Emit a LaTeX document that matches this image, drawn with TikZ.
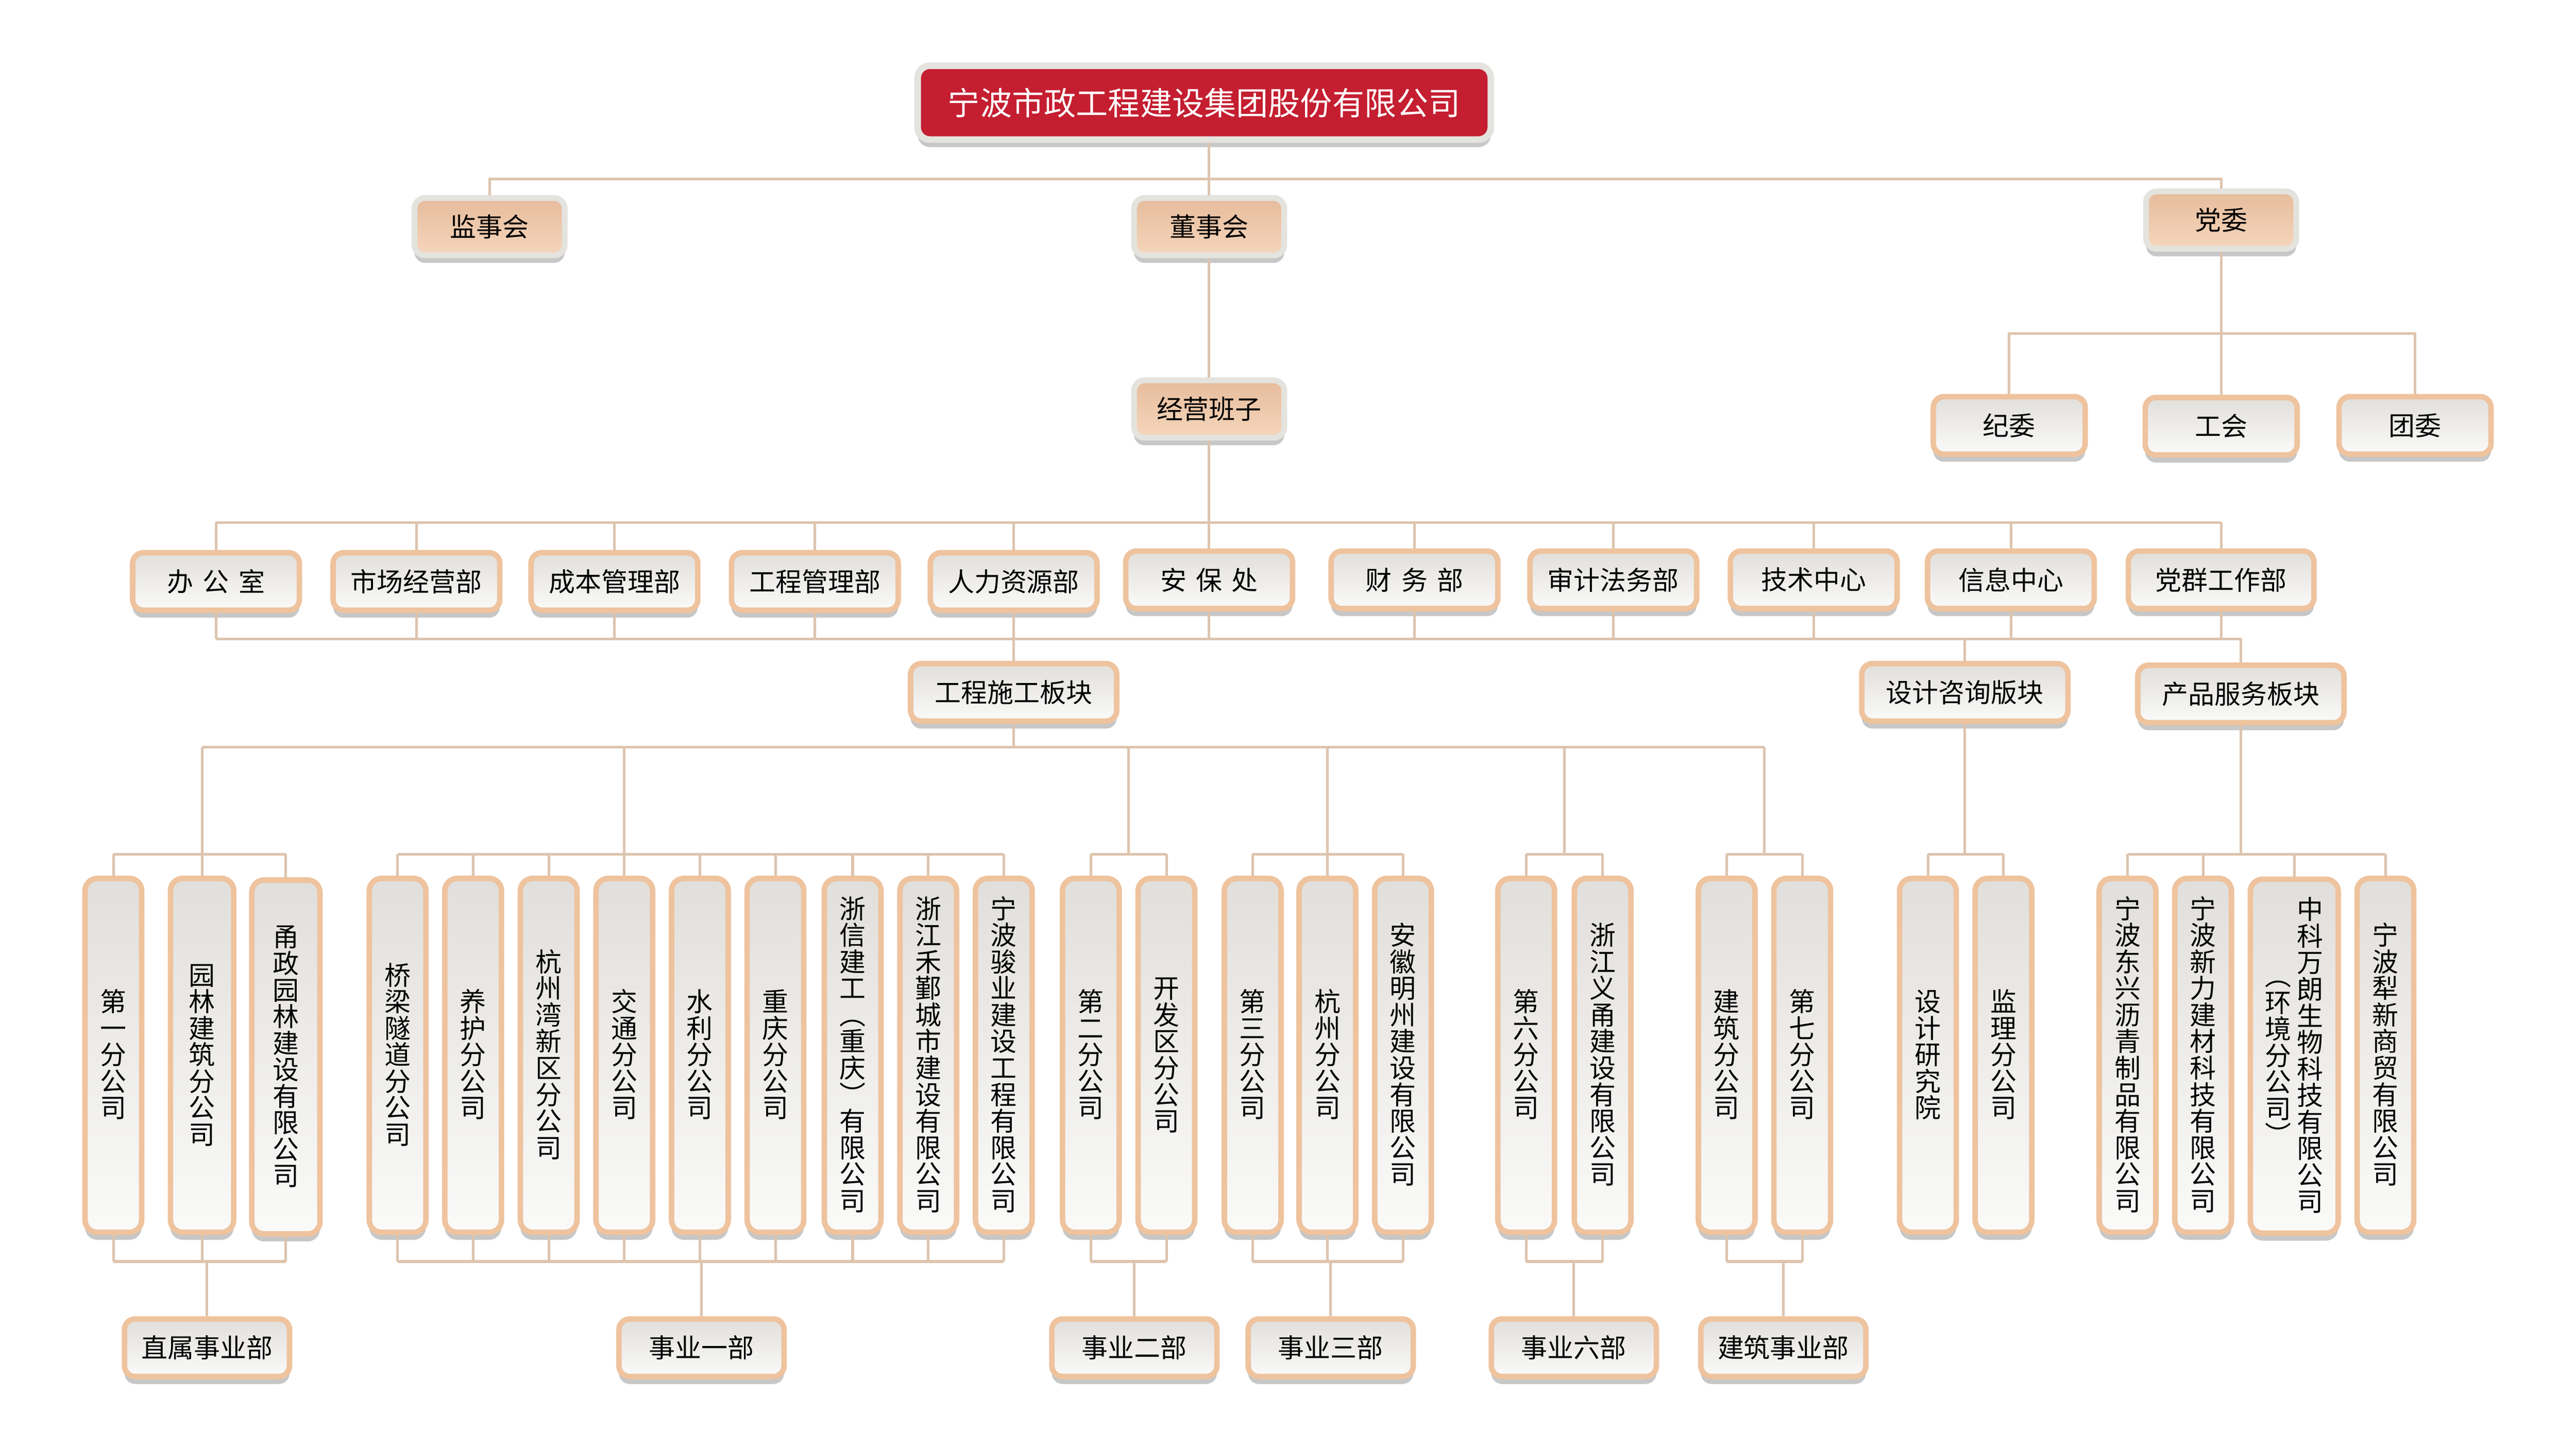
\documentclass[tikz,border=0pt]{standalone}
\usepackage{fontspec}
\usepackage{xcolor}
\usepackage{tikz}
\usetikzlibrary{shadows,calc}
\newfontfamily\cjk{Noto Sans CJK SC}
\definecolor{rojo}{RGB}{196,30,48}
\definecolor{linea}{RGB}{221,196,174}
\definecolor{marco}{RGB}{238,195,158}
\definecolor{marcogris}{RGB}{228,227,222}
\definecolor{cajaarriba}{RGB}{225,223,219}
\definecolor{cajaabajo}{RGB}{250,250,249}
\definecolor{pielarriba}{RGB}{230,188,156}
\definecolor{pielabajo}{RGB}{245,214,188}
% columna de texto vertical
\newcommand{\vcol}[1]{\ensuremath{\vcenter{\let\\\cr\offinterlineskip\halign{\hfil##\hfil\vrule height 7.8pt depth 1.4pt width 0pt\cr#1\crcr}}}}

\begin{document}
\begin{tikzpicture}[
        x=0.02cm, y=-0.02cm,
        font=\cjk\fontsize{9.1}{9.2}\selectfont,
        link/.style={draw=linea, line width=0.9pt},
        boxshadow/.style={drop shadow={shadow xshift=0pt, shadow yshift=-2.6pt, opacity=0.22, fill=black}},
        titlebox/.style={rectangle, rounded corners=0.15cm, fill=rojo, draw=marcogris, line width=2.3pt, text=white, font=\cjk\fontsize{11.1}{13}\selectfont, minimum width=6.98cm, minimum height=0.9cm, boxshadow},
        boardbox/.style={rectangle, rounded corners=0.13cm, top color=pielarriba, bottom color=pielabajo, draw=marcogris, line width=2pt, minimum width=1.83cm, minimum height=0.7cm, boxshadow},
        deptbox/.style={rectangle, rounded corners=0.13cm, top color=cajaarriba, bottom color=cajaabajo, draw=marco, line width=1.9pt, minimum width=2.03cm, minimum height=0.7cm, boxshadow},
        platebox/.style={deptbox, minimum width=2.51cm},
        divbox/.style={deptbox, minimum width=2.01cm},
        commbox/.style={deptbox, minimum width=1.85cm},
        unitbox/.style={deptbox, rounded corners=0.15cm, minimum width=0.69cm, minimum height=4.31cm, inner sep=0pt}
    ]
        \path[use as bounding box, fill=white] (0,0) rectangle (1568,882);

        \node [titlebox] (group) at (733,62.5) {宁波市政工程建设集团股份有限公司};
        \node [boardbox] (board1) at (298,138) {监事会};
        \node [boardbox] (board2) at (736,138) {董事会};
        \node [boardbox] (board3) at (1352,134) {党委};
        \node [boardbox] (mgmt) at (736,249) {经营班子};

        \node [commbox] (comm1) at (1223,259) {纪委};
        \node [commbox] (comm2) at (1352,259.5) {工会};
        \node [commbox] (comm3) at (1470,259) {团委};

        \node [deptbox] (dept1) at (131.5,354) {办\hspace{0.36em}公\hspace{0.36em}室};
        \node [deptbox] (dept2) at (253.5,354) {市场经营部};
        \node [deptbox] (dept3) at (374,354) {成本管理部};
        \node [deptbox] (dept4) at (496,354) {工程管理部};
        \node [deptbox] (dept5) at (617,354) {人力资源部};
        \node [deptbox] (dept6) at (736,353) {安\hspace{0.36em}保\hspace{0.36em}处};
        \node [deptbox] (dept7) at (861,353) {财\hspace{0.36em}务\hspace{0.36em}部};
        \node [deptbox] (dept8) at (982,353) {审计法务部};
        \node [deptbox] (dept9) at (1104,353) {技术中心};
        \node [deptbox] (dept10) at (1224,353) {信息中心};
        \node [deptbox, minimum width=2.26cm] (dept11) at (1352,353) {党群工作部};

        \node [platebox] (plate1) at (617,421.5) {工程施工板块};
        \node [platebox] (plate2) at (1196,421.5) {设计咨询版块};
        \node [platebox] (plate3) at (1364,422.5) {产品服务板块};

        \node [unitbox] (unit1) at (69,642.5) {\vcol{第\\一\\分\\公\\司}};
        \node [unitbox, minimum width=0.77cm] (unit2) at (123,642.5) {\vcol{园\\林\\建\\筑\\分\\公\\司}};
        \node [unitbox, minimum width=0.83cm] (unit3) at (174,643.5) {\vcol{甬\\政\\园\\林\\建\\设\\有\\限\\公\\司}};
        \node [unitbox] (unit4) at (242,642.5) {\vcol{桥\\梁\\隧\\道\\分\\公\\司}};
        \node [unitbox] (unit5) at (288,642.5) {\vcol{养\\护\\分\\公\\司}};
        \node [unitbox] (unit6) at (334,642.5) {\vcol{杭\\州\\湾\\新\\区\\分\\公\\司}};
        \node [unitbox] (unit7) at (380,642.5) {\vcol{交\\通\\分\\公\\司}};
        \node [unitbox] (unit8) at (426,642.5) {\vcol{水\\利\\分\\公\\司}};
        \node [unitbox] (unit9) at (472,642.5) {\vcol{重\\庆\\分\\公\\司}};
        \node [unitbox] (unit10) at (519,642.5) {\vcol{浙\\信\\建\\工\\︵\\重\\庆\\︶\\有\\限\\公\\司}};
        \node [unitbox] (unit11) at (565,642.5) {\vcol{浙\\江\\禾\\鄞\\城\\市\\建\\设\\有\\限\\公\\司}};
        \node [unitbox] (unit12) at (611,642.5) {\vcol{宁\\波\\骏\\业\\建\\设\\工\\程\\有\\限\\公\\司}};
        \node [unitbox] (unit13) at (664,642.5) {\vcol{第\\二\\分\\公\\司}};
        \node [unitbox] (unit14) at (710,642.5) {\vcol{开\\发\\区\\分\\公\\司}};
        \node [unitbox] (unit15) at (762.5,642.5) {\vcol{第\\三\\分\\公\\司}};
        \node [unitbox] (unit16) at (808,642.5) {\vcol{杭\\州\\分\\公\\司}};
        \node [unitbox] (unit17) at (854,642.5) {\vcol{安\\徽\\明\\州\\建\\设\\有\\限\\公\\司}};
        \node [unitbox] (unit18) at (929,642.5) {\vcol{第\\六\\分\\公\\司}};
        \node [unitbox] (unit19) at (975.5,642.5) {\vcol{浙\\江\\义\\甬\\建\\设\\有\\限\\公\\司}};
        \node [unitbox] (unit20) at (1051,642.5) {\vcol{建\\筑\\分\\公\\司}};
        \node [unitbox] (unit21) at (1097,642.5) {\vcol{第\\七\\分\\公\\司}};
        \node [unitbox] (unit22) at (1173.5,642.5) {\vcol{设\\计\\研\\究\\院}};
        \node [unitbox] (unit23) at (1219.5,642.5) {\vcol{监\\理\\分\\公\\司}};
        \node [unitbox] (unit24) at (1295,642.5) {\vcol{宁\\波\\东\\兴\\沥\\青\\制\\品\\有\\限\\公\\司}};
        \node [unitbox] (unit25) at (1341,642.5) {\vcol{宁\\波\\新\\力\\建\\材\\科\\技\\有\\限\\公\\司}};
        \node [unitbox, minimum width=1.07cm] (unit26) at (1396.5,643) {\vcol{︵\\环\\境\\分\\公\\司\\︶}\hspace{2pt}\vcol{中\\科\\万\\朗\\生\\物\\科\\技\\有\\限\\公\\司}};
        \node [unitbox] (unit27) at (1452,642.5) {\vcol{宁\\波\\犁\\新\\商\\贸\\有\\限\\公\\司}};

        \node [divbox] (div1) at (126,820.5) {直属事业部};
        \node [divbox] (div2) at (427,820.5) {事业一部};
        \node [divbox] (div3) at (690.5,820.5) {事业二部};
        \node [divbox] (div4) at (810,820.5) {事业三部};
        \node [divbox] (div5) at (958,820.5) {事业六部};
        \node [divbox] (div6) at (1085.5,820.5) {建筑事业部};

        % niveles de las lineas
        \coordinate (bus0) at (0,109);
        \coordinate (bus1) at (0,203);
        \coordinate (bus2) at (0,318);
        \coordinate (bus3) at (0,389);
        \coordinate (bus4) at (0,455);
        \coordinate (bus5) at (0,520);
        \coordinate (bus6) at (0,768);
        \coordinate (hub1) at (unit2.north);
        \coordinate (hub2) at (unit7.north);
        \coordinate (hub3) at ($(unit13.north)!.5!(unit14.north)$);
        \coordinate (hub4) at (unit16.north);
        \coordinate (hub5) at ($(unit18.north)!.5!(unit19.north)$);
        \coordinate (hub6) at ($(unit20.north)!.5!(unit21.north)$);

        \draw[link] (board1.north) -- (board1.north |- bus0) -- (board3.north |- bus0) -- (board3.north);
        \draw[link] (board2.north |- group.south) -- (board2.north);
        \draw[link] (board2.south) -- (mgmt.north);
        \draw[link] (mgmt.south) -- (mgmt.south |- bus2);
        \draw[link] (board3.south) -- (comm2.north);
        \draw[link] (comm1.north) -- (comm1.north |- bus1) -- (comm3.north |- bus1) -- (comm3.north);

        \foreach \i in {1,...,11} {
            \draw[link] (dept\i.north) -- (dept\i.north |- bus2);
            \draw[link] (dept\i.south) -- (dept\i.south |- bus3);
        }
        \draw[link] (dept1.north |- bus2) -- (dept11.north |- bus2);
        \draw[link] (dept1.south |- bus3) -- (plate3.north |- bus3);
        \foreach \i in {1,2,3}
            \draw[link] (plate\i.north) -- (plate\i.north |- bus3);

        \draw[link] (plate1.south) -- (plate1.south |- bus4);
        \draw[link] (hub1 |- bus4) -- (hub6 |- bus4);
        \foreach \i in {1,...,6}
            \draw[link] (hub\i |- bus4) -- (hub\i |- bus5);
        \draw[link] (plate2.south) -- (plate2.south |- bus5);
        \draw[link] (plate3.south) -- (plate3.south |- bus5);

        \foreach \i in {1,...,27}
            \draw[link] (unit\i.north) -- (unit\i.north |- bus5);
        \foreach \a/\b in {1/3,4/12,13/14,15/17,18/19,20/21,22/23,24/27}
            \draw[link] (unit\a.north |- bus5) -- (unit\b.north |- bus5);

        \foreach \i in {1,...,21}
            \draw[link] (unit\i.south) -- (unit\i.south |- bus6);
        \foreach \a/\b in {1/3,4/12,13/14,15/17,18/19,20/21}
            \draw[link] (unit\a.south |- bus6) -- (unit\b.south |- bus6);
        \foreach \i in {1,...,6}
            \draw[link] (div\i.north) -- (div\i.north |- bus6);
    \end{tikzpicture}
\end{document}
